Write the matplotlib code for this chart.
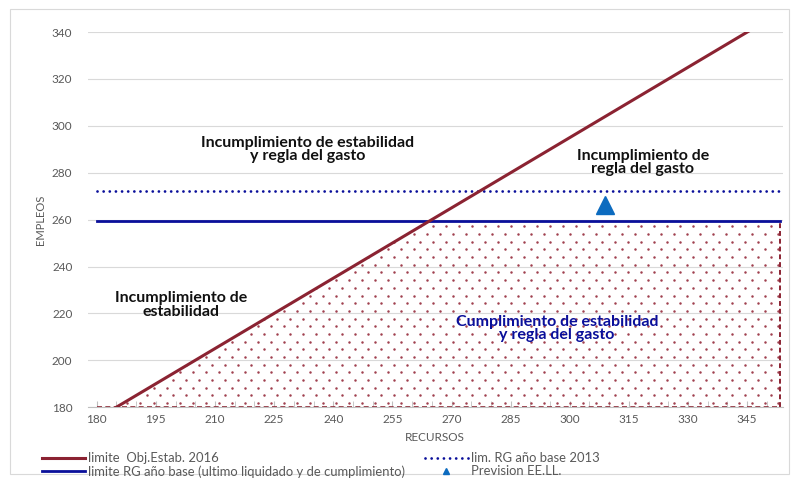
import numpy as np
import matplotlib
matplotlib.use("Agg")
import matplotlib.pyplot as plt
from matplotlib.lines import Line2D
from matplotlib.patches import Rectangle

plt.rcParams['font.family'] = ['Lato', 'DejaVu Sans']

# Data
obj_x = [180, 353.3]            # RECURSOS
obj_y = [175, 348.3]            # limite Obj.Estab. 2016
rg_base = 259.6                 # limite RG año base (ultimo liquidado y de cumplimiento)
rg_2013 = 272.1                 # lim. RG año base 2013
rg_x = [180, 353.3]
prev_x = [308.9]                # Prevision EE.LL.
prev_y = [266.3]
xticks = [180, 195, 210, 225, 240, 255, 270, 285, 300, 315, 330, 345]
yticks = [180, 200, 220, 240, 260, 280, 300, 320, 340]

red = '#8b2332'
dotred = '#a0404f'
blue = '#0a0f9a'
tri = '#0c6bbf'
dots = (0, (0.01, 2.2))

fig = plt.figure(figsize=(7.97, 4.79), dpi=100)
fig.patches.append(Rectangle((0.012, 0.01), 0.978, 0.972, transform=fig.transFigure,
                             fill=False, edgecolor='#d9d9d9', linewidth=0.8))
ax = fig.add_axes([0.110, 0.150, 0.872, 0.783])
ax.set_xlim(177.7, 354.0)
ax.set_ylim(180, 340)

# fill region (compliance) with staggered dot pattern
xs = np.linspace(obj_x[0], obj_x[1], 800)
top = np.minimum(np.interp(xs, obj_x, obj_y), rg_base)
top = np.maximum(top, 180)
poly = ax.fill_between(xs, 180, top, facecolor='none', edgecolor='none', zorder=1)
dx, dy = 3.3, 3.28
ax1, ay1 = np.meshgrid(np.arange(181.2, 353.3, dx), np.arange(181.7, 260, 2 * dy))
ax2, ay2 = np.meshgrid(np.arange(181.2 + dx / 2, 353.3, dx), np.arange(181.7 + dy, 260, 2 * dy))
px = np.concatenate([ax1.ravel(), ax2.ravel()])
py = np.concatenate([ay1.ravel(), ay2.ravel()])
pts = ax.scatter(px, py, s=3.2, color=dotred, marker='o', linewidths=0, zorder=1)
pts.set_clip_path(poly.get_paths()[0], ax.transData)
ax.plot([obj_x[1], obj_x[1]], [180, rg_base], color=red, lw=1.4, ls=(0, (2.5, 1.5)), zorder=2)
ax.plot([obj_x[0], obj_x[1]], [180, 180], color=red, lw=1.2, ls=(0, (3, 2)), zorder=2)

ax.plot(rg_x, [rg_2013, rg_2013], color=blue, lw=2.0, ls=dots,
        dash_capstyle='round', zorder=3)
ax.plot(rg_x, [rg_base, rg_base], color=blue, lw=2.0, zorder=3)
ax.plot(obj_x, obj_y, color=red, lw=2.2, zorder=4)
ax.plot(prev_x, prev_y, marker='^', ms=13, color=tri, ls='none', zorder=5)

ax.set_xticks(xticks)
ax.set_xticks(np.arange(180, 355, 5), minor=True)
ax.set_yticks(yticks)
ax.grid(axis='y', color='#d9d9d9', lw=0.8)
ax.set_axisbelow(True)
for s in ['top', 'right', 'left']:
    ax.spines[s].set_visible(False)
ax.spines['bottom'].set_color('#bfbfbf')
ax.tick_params(axis='y', length=0, labelsize=8.5, labelcolor='#595959', pad=11)
ax.tick_params(axis='x', which='major', length=4, direction='in', color='#bfbfbf',
               labelsize=8.5, labelcolor='#595959', pad=5)
ax.tick_params(axis='x', which='minor', length=4, direction='in', color='#bfbfbf')
ax.set_xlabel('RECURSOS', fontsize=8.5, color='#595959', labelpad=5)
ax.set_ylabel('EMPLEOS', fontsize=8, color='#595959', labelpad=4)

tkw = dict(ha='center', va='center', fontsize=11.5, fontweight='bold', linespacing=0.95)
ax.text(233.4, 290.0, 'Incumplimiento de estabilidad\ny regla del gasto', color='#111111', **tkw)
ax.text(318.5, 284.3, 'Incumplimiento de\nregla del gasto', color='#111111', **tkw)
ax.text(201.5, 223.5, 'Incumplimiento de\nestabilidad', color='#111111', **tkw)
ax.text(296.8, 213.5, 'Cumplimiento de estabilidad\ny regla del gasto', color=blue, **tkw)

handles = [
    Line2D([], [], color=red, lw=2.2),
    Line2D([], [], color=blue, lw=2.0),
    Line2D([], [], color=blue, lw=2.0, ls=dots, dash_capstyle='round'),
    Line2D([], [], color=tri, marker='^', ls='none', ms=5),
]
labels = ['limite  Obj.Estab. 2016',
          'limite RG año base (ultimo liquidado y de cumplimiento)',
          'lim. RG año base 2013',
          'Prevision EE.LL.']
fig.legend(handles, labels, ncol=2, loc='center left', bbox_to_anchor=(42 / 797, 0.029),
           borderaxespad=0, borderpad=0,
           frameon=False, fontsize=9.4, labelcolor='#595959', handlelength=3.3,
           handletextpad=0.25, columnspacing=1.5, labelspacing=0.08)

fig.savefig('out.png', dpi=100)
